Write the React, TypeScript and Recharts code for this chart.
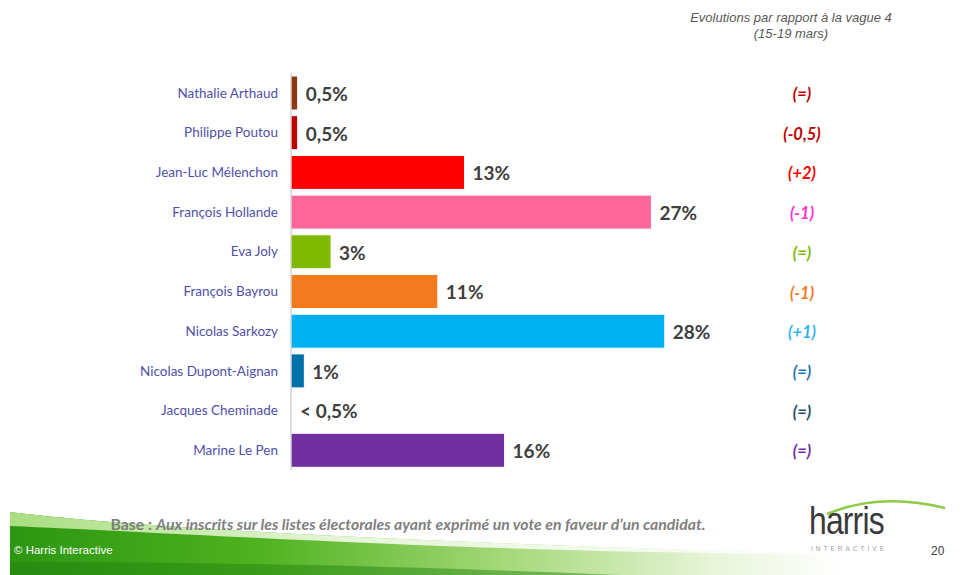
import { Bar, BarChart, Cell, LabelList, XAxis, YAxis } from "recharts"

const candidates = [
  "Nathalie Arthaud",
  "Philippe Poutou",
  "Jean-Luc Mélenchon",
  "François Hollande",
  "Eva Joly",
  "François Bayrou",
  "Nicolas Sarkozy",
  "Nicolas Dupont-Aignan",
  "Jacques Cheminade",
  "Marine Le Pen",
]
const scores = [0.5, 0.5, 13, 27, 3, 11, 28, 1, 0, 16]
const scoreLabels = ["0,5%", "0,5%", "13%", "27%", "3%", "11%", "28%", "1%", "< 0,5%", "16%"]
const evolutions = ["(=)", "(-0,5)", "(+2)", "(-1)", "(=)", "(-1)", "(+1)", "(=)", "(=)", "(=)"]
const barColors = [
  "#8B3A0F", "#C00000", "#FF0000", "#FF6699", "#7FBA00",
  "#F47A20", "#00B0F0", "#0070A8", "transparent", "#7030A0",
]
const evoColors = [
  "#C00000", "#C00000", "#FF0000", "#FF33CC", "#7FBA00",
  "#F47A20", "#33B5F5", "#1F78B4", "#1F4E5F", "#7030A0",
]

const data = candidates.map((name, i) => ({
  name,
  score: scores[i],
  label: scoreLabels[i],
  evo: evolutions[i],
}))

const CALIBRI = "Lato, 'Open Sans', sans-serif"

function ValueLabel(props: any) {
  const { x, y, width, height, value } = props
  return (
    <text
      x={x + width + 8}
      y={y + height / 2 + 3}
      dominantBaseline="middle"
      fontFamily={CALIBRI}
      fontWeight={700}
      fontSize={19}
      fill="#404040"
    >
      {value}
    </text>
  )
}

function EvoTick(props: any) {
  const { y, index } = props
  return (
    <text
      x={802}
      y={y + 3}
      textAnchor="middle"
      dominantBaseline="middle"
      fontFamily={CALIBRI}
      fontWeight={700}
      fontStyle="italic"
      fontSize={16.5}
      fill={evoColors[index]}
    >
      {evolutions[index]}
    </text>
  )
}

export default function App() {
  return (
    <div
      style={{
        position: "absolute",
        top: 0,
        left: 0,
        width: 968,
        height: 575,
        background: "#fff",
        overflow: "hidden",
        fontFamily: "'Liberation Sans', Arial, sans-serif",
      }}
    >
      {/* green swoosh footer */}
      <svg width={968} height={575} style={{ position: "absolute", top: 0, left: 0 }}>
        <defs>
          <linearGradient id="sw" x1="0" y1="0" x2="1" y2="0">
            <stop offset="0" stopColor="#2C9612" />
            <stop offset="0.3" stopColor="#4FB21F" />
            <stop offset="0.6" stopColor="#A6D97A" />
            <stop offset="0.85" stopColor="#E8F5DA" />
            <stop offset="1" stopColor="#FFFFFF" />
          </linearGradient>
          <linearGradient id="sw2" x1="0" y1="0" x2="1" y2="0">
            <stop offset="0" stopColor="#A8DE80" />
            <stop offset="0.4" stopColor="#E6F5D8" />
            <stop offset="1" stopColor="#FFFFFF" />
          </linearGradient>
        </defs>
        <path d="M10,512 C90,522 300,540 840,554 L840,575 L10,575 Z" fill="url(#sw)" />
        <path d="M10,512 C90,522 300,540 840,554 C500,554 200,534 10,526 Z" fill="url(#sw2)" />
        <path d="M10,562 C250,562 450,568 620,575 L10,575 Z" fill="#1F7F10" opacity={0.45} />
        <path d="M827,514 Q880,492 945,508" stroke="#8DCB4A" strokeWidth={2.5} fill="none" />
      </svg>

      <div
        style={{
          position: "absolute",
          top: 10,
          left: 671,
          width: 240,
          textAlign: "center",
          fontStyle: "italic",
          fontSize: 13,
          lineHeight: "16px",
          color: "#595959",
        }}
      >
        Evolutions par rapport à la vague 4
        <br />
        (15-19 mars)
      </div>

      <div style={{ position: "absolute", top: 0, left: 0 }}>
        <BarChart
          width={968}
          height={575}
          data={data}
          layout="vertical"
          margin={{ top: 73, right: 0, bottom: 105, left: 0 }}
          barSize={34}
        >
          <XAxis type="number" domain={[0, 40]} hide />
          <YAxis
            yAxisId="names"
            type="category"
            dataKey="name"
            width={291}
            axisLine={{ stroke: "#BFBFBF" }}
            tickLine={false}
            tickMargin={7}
            tick={{ fontSize: 13.5, fill: "#5050A8", fontFamily: CALIBRI }}
            interval={0}
          />
          <YAxis
            yAxisId="evo"
            orientation="right"
            type="category"
            dataKey="evo"
            width={143}
            axisLine={false}
            tickLine={false}
            tick={<EvoTick />}
            interval={0}
          />
          <Bar dataKey="score" yAxisId="names" minPointSize={1} isAnimationActive={false}>
            {data.map((d, i) => (
              <Cell key={d.name} fill={barColors[i]} stroke="#FFFFFF" strokeWidth={1} />
            ))}
            <LabelList dataKey="label" content={<ValueLabel />} />
          </Bar>
        </BarChart>
      </div>

      <div
        style={{
          position: "absolute",
          top: 514,
          left: 0,
          width: 816,
          textAlign: "center",
          fontFamily: CALIBRI,
          fontSize: 15.8,
          fontWeight: 700,
          color: "#7F7F7F",
        }}
      >
        Base : <i>Aux inscrits sur les listes électorales ayant exprimé un vote en faveur d’un candidat.</i>
      </div>
      <div style={{ position: "absolute", top: 544, left: 14, fontSize: 11.5, color: "#FFFFFF" }}>
        © Harris Interactive
      </div>
      <div
        style={{
          position: "absolute",
          top: 501,
          left: 809,
          fontFamily: "'Liberation Sans', sans-serif",
          fontSize: 38,
          letterSpacing: -1,
          color: "#3A3A3A",
          lineHeight: "40px",
          transform: "scaleX(0.84)",
          transformOrigin: "left",
        }}
      >
        harris
      </div>
      <div
        style={{
          position: "absolute",
          top: 545,
          left: 811,
          fontSize: 6.5,
          letterSpacing: 3,
          color: "#A0A0A0",
        }}
      >
        INTERACTIVE
      </div>
      <div style={{ position: "absolute", top: 544, left: 931, fontSize: 12, color: "#404040" }}>
        20
      </div>
    </div>
  )
}
